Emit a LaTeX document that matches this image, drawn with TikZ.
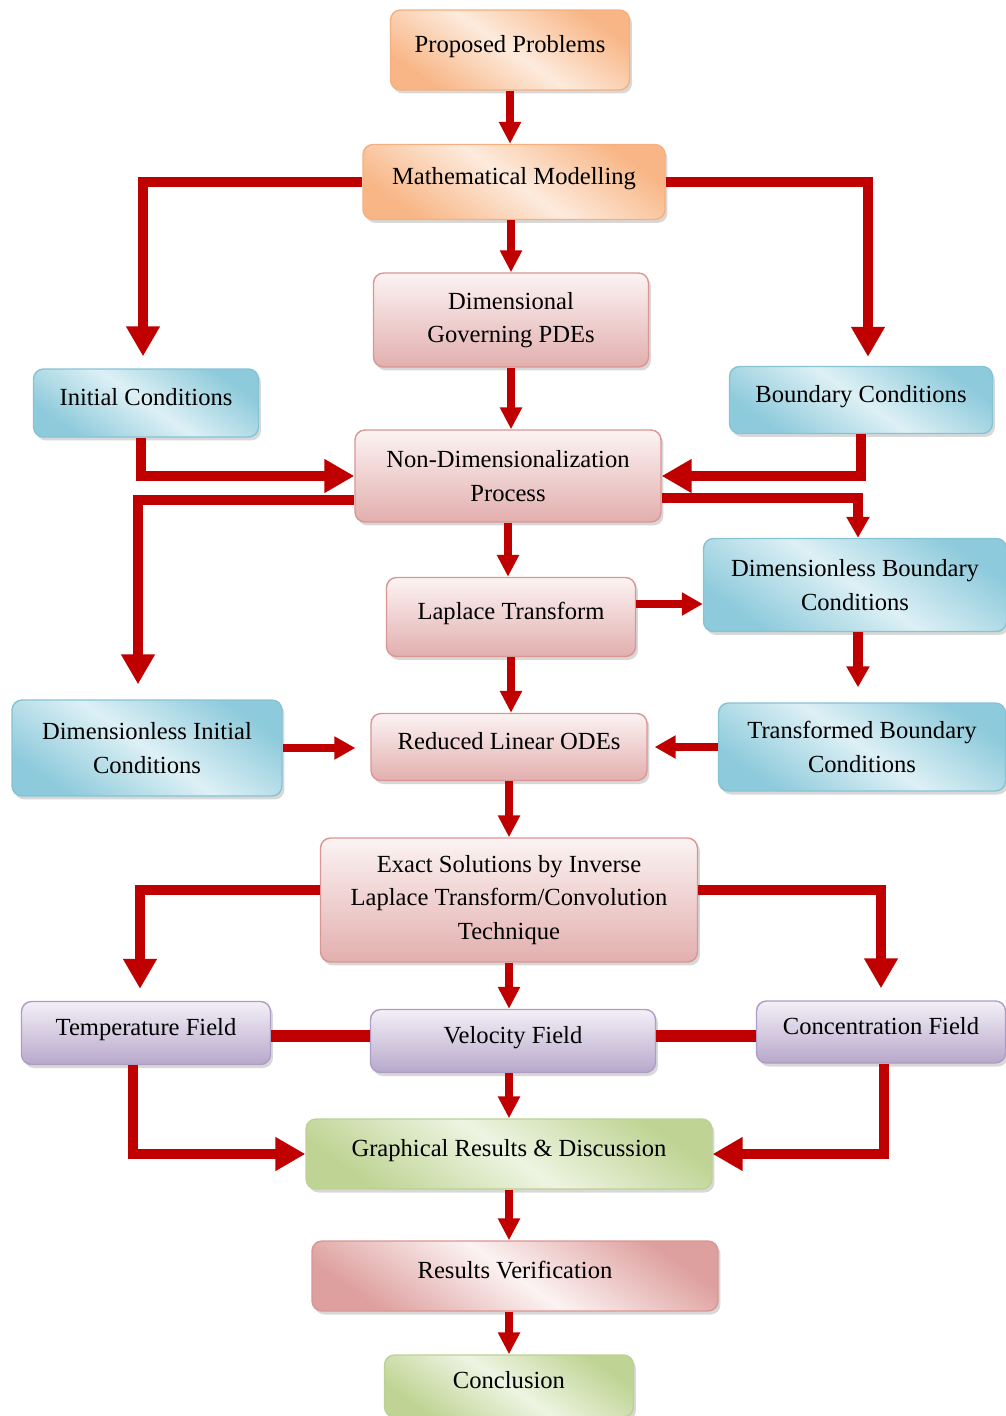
\documentclass[tikz,border=0pt]{standalone}
\usepackage{fontspec}
\setmainfont{Liberation Serif}
\usetikzlibrary{arrows.meta,shadows}

\definecolor{arrowred}{HTML}{C00000}
\definecolor{orangedark}{HTML}{F8B686}
\definecolor{orangelight}{HTML}{FDEBDD}
\definecolor{orangeline}{HTML}{F6B07E}
\definecolor{pinkdark}{HTML}{E2AFAE}
\definecolor{pinklight}{HTML}{FCF3F3}
\definecolor{pinkline}{HTML}{DA9694}
\definecolor{bluedark}{HTML}{8DCADB}
\definecolor{bluelight}{HTML}{DDF0F5}
\definecolor{blueline}{HTML}{86C3D5}
\definecolor{purpledark}{HTML}{B8A8CB}
\definecolor{purplelight}{HTML}{F3F0F7}
\definecolor{purpleline}{HTML}{AE9DC4}
\definecolor{greendark}{HTML}{BFD494}
\definecolor{greenlight}{HTML}{EEF4E2}
\definecolor{greenline}{HTML}{BCD194}

\begin{document}
\begin{tikzpicture}[x=0.02cm,y=-0.02cm,
    box/.style={rounded corners=0.2cm,align=center,inner sep=0pt,line width=0.8pt,
      font=\fontsize{14}{19}\selectfont,
      drop shadow={shadow xshift=0.05cm,shadow yshift=-0.07cm,opacity=0.3}},
    oneline/.style={text height=0.36cm,text depth=0.26cm},
    orangebox/.style={box,draw=orangeline,top color=orangedark,bottom color=orangedark,
      middle color=orangelight,shading angle=-35},
    pinkbox/.style={box,draw=pinkline,top color=pinklight,bottom color=pinkdark},
    pinkdiag/.style={box,draw=pinkline,top color=pinkline!90!white,bottom color=pinkline!90!white,
      middle color=pinklight,shading angle=-35},
    bluebox/.style={box,draw=blueline,top color=bluedark,bottom color=bluedark,
      middle color=bluelight,shading angle=-35},
    purplebox/.style={box,draw=purpleline,top color=purplelight,bottom color=purpledark},
    greenbox/.style={box,draw=greenline,top color=greendark,bottom color=greendark,
      middle color=greenlight,shading angle=-35},
    flow/.style={draw=arrowred,line width=4pt,-{Triangle[length=0.44cm,width=0.42cm]}},
    midflow/.style={draw=arrowred,line width=5.2pt,-{Triangle[length=0.42cm,width=0.44cm]}},
    bigflow/.style={draw=arrowred,line width=5.7pt,-{Triangle[length=0.6cm,width=0.64cm]}},
    link/.style={draw=arrowred,line width=6.8pt}]
  \fill[white] (0,0) rectangle (1006,1416);
  \useasboundingbox (0,0) rectangle (1006,1416);
  \draw
    (510,50) node[orangebox,oneline,minimum width=4.78cm,minimum height=1.6cm] (pp){Proposed Problems}
    (514,182) node[orangebox,oneline,minimum width=6.04cm,minimum height=1.5cm] (mm){Mathematical Modelling}
    (511,320) node[pinkbox,minimum width=5.5cm,minimum height=1.88cm] (dgp){Dimensional\\Governing PDEs}
    (146,403) node[bluebox,oneline,minimum width=4.5cm,minimum height=1.36cm] (ic){Initial Conditions}
    (861,400) node[bluebox,oneline,minimum width=5.26cm,minimum height=1.34cm] (bc){Boundary Conditions}
    (508,476) node[pinkbox,minimum width=6.12cm,minimum height=1.84cm] (ndp){Non-Dimensionalization\\Process}
    (511,617) node[pinkbox,oneline,minimum width=4.98cm,minimum height=1.58cm] (lt){Laplace Transform}
    (855,585) node[bluebox,minimum width=6.06cm,minimum height=1.86cm] (dbc){Dimensionless Boundary\\Conditions}
    (147,748) node[bluebox,minimum width=5.4cm,minimum height=1.92cm] (dic){Dimensionless Initial\\Conditions}
    (509,747) node[pinkbox,oneline,minimum width=5.52cm,minimum height=1.34cm] (rlo){Reduced Linear ODEs}
    (862,747) node[bluebox,minimum width=5.74cm,minimum height=1.76cm] (tbc){Transformed Boundary\\Conditions}
    (509,900) node[pinkbox,minimum width=7.54cm,minimum height=2.48cm] (es){Exact Solutions by Inverse\\Laplace Transform/Convolution\\Technique}
    (146,1033) node[purplebox,oneline,minimum width=4.98cm,minimum height=1.26cm] (tf){Temperature Field}
    (513,1041) node[purplebox,oneline,minimum width=5.7cm,minimum height=1.26cm] (vf){Velocity Field}
    (881,1032) node[purplebox,oneline,minimum width=4.98cm,minimum height=1.24cm] (cf){Concentration Field}
    (509,1154) node[greenbox,oneline,minimum width=8.12cm,minimum height=1.4cm] (gr){Graphical Results \& Discussion}
    (515,1276) node[pinkdiag,oneline,minimum width=8.12cm,minimum height=1.4cm] (rv){Results Verification}
    (509,1386) node[greenbox,oneline,minimum width=4.98cm,minimum height=1.24cm] (con){Conclusion};
  \coordinate (ltout) at ([yshift=0.26cm]lt.east);
  \coordinate (tfout) at ([yshift=-0.06cm]tf.east);
  \coordinate (cfin) at ([yshift=-0.08cm]cf.west);
  \begin{scope}[flow]
    \draw (pp.south) to (pp.south |- mm.north);
    \draw (dgp.north |- mm.south) to (dgp.north);
    \draw (dgp.south) to (dgp.south |- ndp.north);
    \draw (ndp.south) to (ndp.south |- lt.north);
    \draw (lt.south) to (lt.south |- rlo.north);
    \draw (rlo.south) to (rlo.south |- es.north);
    \draw (es.south) to (es.south |- vf.north);
    \draw (gr.north |- vf.south) to (gr.north);
    \draw (gr.south) to (gr.south |- rv.north);
    \draw (con.north |- rv.south) to (con.north);
  \end{scope}
  \begin{scope}[midflow]
    \draw ([yshift=-0.44cm]ndp.east) -| ([xshift=0.06cm]dbc.north);
    \draw[line width=4.5pt] (ltout) to (ltout -| dbc.west);
    \draw[shorten >=0.3cm] ([xshift=0.06cm]dbc.south) to ([xshift=0.06cm]dbc.south |- tbc.north);
    \draw[line width=4.5pt,shorten >=0.3cm] (dic.east) to (dic.east -| rlo.west);
    \draw[line width=4.5pt,shorten >=0.14cm] (tbc.west) to (tbc.west -| rlo.east);
  \end{scope}
  \begin{scope}[bigflow]
    \draw[shorten >=0.24cm] (mm.west) -| ([xshift=-0.06cm]ic.north);
    \draw[shorten >=0.18cm] (mm.east) -| ([xshift=0.14cm]bc.north);
    \draw ([xshift=-0.1cm]ic.south) |- (ndp.west);
    \draw (bc.south) |- (ndp.east);
    \draw[shorten >=0.3cm] ([yshift=-0.48cm]ndp.west) -| ([xshift=-0.18cm]dic.north);
    \draw[shorten >=0.24cm] ([yshift=0.2cm]es.west) -| ([xshift=-0.12cm]tf.north);
    \draw[shorten >=0.24cm] ([yshift=0.2cm]es.east) -| (cf.north);
    \draw ([xshift=-0.26cm]tf.south) |- (gr.west);
    \draw ([xshift=0.06cm]cf.south) |- (gr.east);
  \end{scope}
  \begin{scope}[link]
    \draw (tfout) to (tfout -| vf.west);
    \draw (cfin -| vf.east) to (cfin);
  \end{scope}
\end{tikzpicture}
\end{document}
